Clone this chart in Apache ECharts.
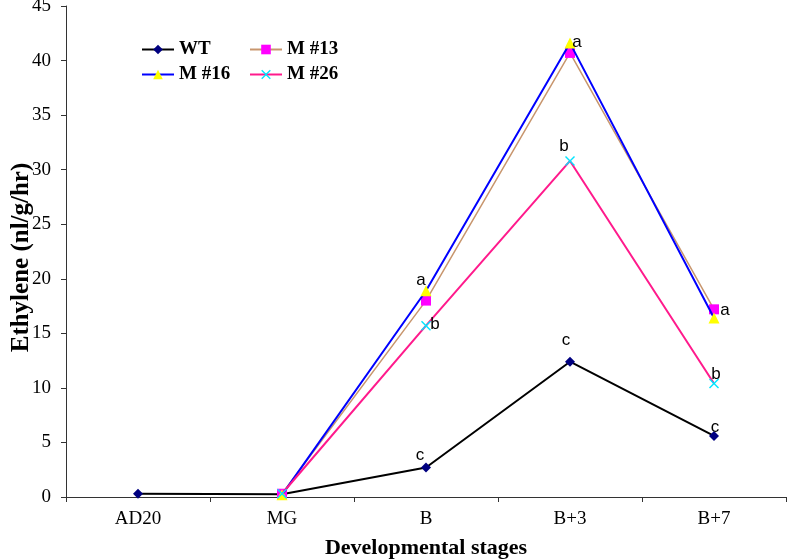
<!DOCTYPE html>
<html>
<head>
<meta charset="utf-8">
<script src="https://cdn.jsdelivr.net/npm/echarts@6/dist/echarts.min.js"></script>
<style>html,body{margin:0;padding:0;background:#fff}#c{width:788px;height:559px}</style>
</head>
<body>
<div id="c"></div>
<script>
const categories = ['AD20', 'MG', 'B', 'B+3', 'B+7'];
const wtValues  = [0.3, 0.25, 2.7, 12.4, 5.6];
const m13Values = [null, 0.3, 18.0, 40.7, 17.2];
const m16Values = [null, 0.2, 18.9, 41.6, 16.4];
const m26Values = [null, 0.3, 15.7, 30.8, 10.4];
const wtLetters  = ['', '', 'c', 'c', 'c'];
const m13Letters = ['', '', '', '', 'a'];
const m16Letters = ['', '', 'a', 'a', ''];
const m26Letters = ['', '', 'b', 'b', 'b'];
const yTicks = [0, 5, 10, 15, 20, 25, 30, 35, 40, 45];

const offsets = {
  WT:    [null, null, [-6, -12], [-4, -21], [1, -9]],
  'M #13': [null, null, null, null, [11, 1]],
  'M #16': [null, null, [-5, -10], [7, -1], null],
  'M #26': [null, null, [9, -1], [-6, -15], [2, -9]]
};

function build(name, values, letters) {
  return values.map((v, i) => {
    if (v === null) return null;
    const o = offsets[name][i];
    if (!letters[i] || !o) return v;
    return {
      value: v,
      label: {
        show: true, position: 'inside', offset: o,
        formatter: letters[i],
        fontFamily: 'Liberation Sans', fontSize: 17, color: '#000'
      }
    };
  });
}

const xPath = 'path://M0,1L1,0L5,4L9,0L10,1L6,5L10,9L9,10L5,6L1,10L0,9L4,5Z';

const chart = echarts.init(document.getElementById('c'));
const serif = 'Liberation Serif';
const legendText = {fontFamily: serif, fontWeight: 'bold', fontSize: 19, color: '#000'};
function lg(name, left, top) {
  return {data: [name], left: left, top: top, itemWidth: 32, itemHeight: 12, itemGap: 0,
    textStyle: legendText, selectedMode: false, padding: 0};
}
chart.setOption({
  animation: false,
  backgroundColor: '#fff',
  grid: {left: 66, right: 2, top: 6, bottom: 62, outerBoundsMode: 'none', containLabel: false},
  legend: [lg('WT', 141, 40), lg('M #13', 249, 40), lg('M #16', 141, 65), lg('M #26', 249, 65)],
  xAxis: {
    type: 'category', data: categories, boundaryGap: true,
    axisLine: {lineStyle: {color: '#333', width: 1}},
    axisTick: {show: true, length: 5, lineStyle: {color: '#333'}},
    axisLabel: {fontFamily: serif, fontSize: 19, color: '#000', margin: 13},
    name: 'Developmental stages', nameLocation: 'middle', nameGap: 40, nameMoveOverlap: false,
    nameTextStyle: {fontFamily: serif, fontWeight: 'bold', fontSize: 22, color: '#000'}
  },
  yAxis: {
    type: 'value', min: yTicks[0], max: yTicks[yTicks.length - 1], interval: 5,
    splitLine: {show: false},
    axisLine: {show: true, lineStyle: {color: '#333', width: 1}},
    axisTick: {show: true, length: 5, lineStyle: {color: '#333'}},
    axisLabel: {fontFamily: serif, fontSize: 19, color: '#000', margin: 15},
    name: 'Ethylene (nl/g/hr)', nameLocation: 'middle', nameGap: 32, nameRotate: 90, nameMoveOverlap: false,
    nameTextStyle: {fontFamily: serif, fontWeight: 'bold', fontSize: 25, color: '#000', padding: [0, 12, 0, 0]}
  },
  series: [
    {name: 'WT', type: 'line', data: build('WT', wtValues, wtLetters),
     symbol: 'diamond', symbolSize: 10, itemStyle: {color: '#000080'},
     lineStyle: {color: '#000', width: 2}, z: 2},
    {name: 'M #13', type: 'line', data: build('M #13', m13Values, m13Letters),
     symbol: 'rect', symbolSize: 10, itemStyle: {color: '#ff00ff'},
     lineStyle: {color: '#c8966e', width: 1.5}, z: 3},
    {name: 'M #16', type: 'line', data: build('M #16', m16Values, m16Letters),
     symbol: 'triangle', symbolSize: 11, itemStyle: {color: '#ffff00'},
     lineStyle: {color: '#0000ff', width: 2}, z: 4},
    {name: 'M #26', type: 'line', data: build('M #26', m26Values, m26Letters),
     symbol: xPath, symbolSize: 10, itemStyle: {color: '#00e5ff'},
     lineStyle: {color: '#ff1a8c', width: 2}, z: 5}
  ]
});
</script>
</body>
</html>
